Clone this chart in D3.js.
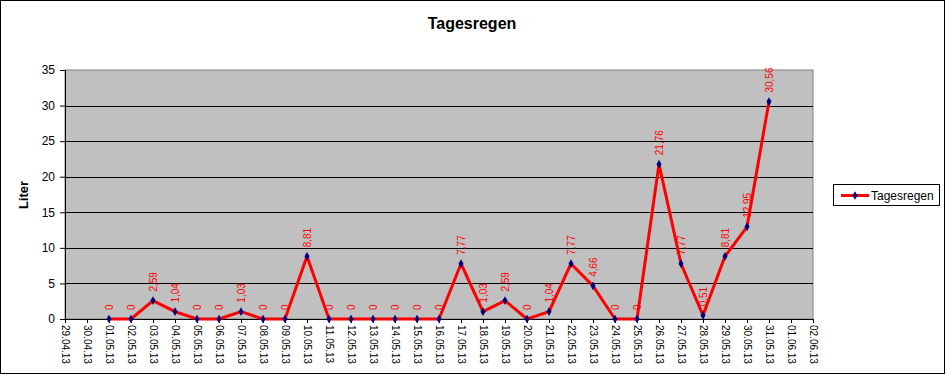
<!DOCTYPE html>
<html>
<head>
<meta charset="utf-8">
<script src="https://cdn.jsdelivr.net/npm/d3@7"></script>
<style>
  body { margin: 0; background: #fff; }
  svg { display: block; font-family: "Liberation Sans", Arial, sans-serif; }
</style>
</head>
<body>
<svg id="chart" width="946" height="375"></svg>
<script>
var dates = ["29.04.13","30.04.13","01.05.13","02.05.13","03.05.13","04.05.13","05.05.13",
  "06.05.13","07.05.13","08.05.13","09.05.13","10.05.13","11.05.13","12.05.13","13.05.13",
  "14.05.13","15.05.13","16.05.13","17.05.13","18.05.13","19.05.13","20.05.13","21.05.13",
  "22.05.13","23.05.13","24.05.13","25.05.13","26.05.13","27.05.13","28.05.13","29.05.13",
  "30.05.13","31.05.13","01.06.13","02.06.13"];

// null = no measurement
var rain = [null, null, 0, 0, 2.59, 1.04, 0, 0, 1.03, 0, 0, 8.81, 0, 0, 0, 0, 0, 0, 7.77,
  1.03, 2.59, 0, 1.04, 7.77, 4.66, 0, 0, 21.76, 7.77, 0.51, 8.81, 12.95, 30.56, null, null];

var yTicks = [0, 5, 10, 15, 20, 25, 30, 35];

var svg = d3.select("#chart"),
    margin = {top: 70, right: 133, bottom: 56, left: 65},
    width = +svg.attr("width") - margin.left - margin.right,
    height = +svg.attr("height") - margin.top - margin.bottom;

// outer frame
svg.append("rect")
    .attr("x", 0.5).attr("y", 0.5)
    .attr("width", 944).attr("height", 373)
    .attr("fill", "#fff").attr("stroke", "#000");

svg.append("text")
    .attr("x", 472).attr("y", 29)
    .attr("text-anchor", "middle")
    .attr("font-size", 16).attr("font-weight", "bold")
    .text("Tagesregen");

var g = svg.append("g").attr("transform", "translate(" + margin.left + "," + margin.top + ")");

var x = d3.scalePoint().domain(dates).range([0, width]);
var y = d3.scaleLinear().domain([0, 35]).range([height, 0]);

g.append("rect")
    .attr("width", width).attr("height", height)
    .attr("fill", "#c0c0c0").attr("stroke", "#808080");

g.append("g")
  .selectAll("line")
  .data(yTicks.slice(1, -1))
  .enter().append("line")
    .attr("x1", 0).attr("x2", width)
    .attr("y1", function(d) { return Math.round(y(d)) + 0.5; })
    .attr("y2", function(d) { return Math.round(y(d)) + 0.5; })
    .attr("stroke", "#000");

var yAxis = g.append("g")
    .call(d3.axisLeft(y).tickValues(yTicks).tickSize(5).tickPadding(5));
yAxis.selectAll("text").attr("font-size", 12).attr("font-family", "Liberation Sans, Arial").attr("fill", "#000");
yAxis.selectAll("line, path").attr("stroke", "#000");

var xAxis = g.append("g")
    .attr("transform", "translate(0," + height + ")")
    .call(d3.axisBottom(x).tickSize(4).tickSizeOuter(0));
xAxis.selectAll("line, path").attr("stroke", "#000");
xAxis.selectAll("text")
    .attr("font-size", 10).attr("font-family", "Liberation Sans, Arial").attr("fill", "#000")
    .attr("x", 6).attr("y", 0).attr("dy", "0.35em")
    .attr("transform", "rotate(90)")
    .style("text-anchor", "start");

svg.append("text")
    .attr("transform", "translate(28,195) rotate(-90)")
    .attr("text-anchor", "middle")
    .attr("font-size", 13).attr("font-weight", "bold")
    .text("Liter");

var pts = dates.map(function(d, i) { return {date: d, v: rain[i]}; })
    .filter(function(d) { return d.v !== null; });

g.append("path")
    .datum(pts)
    .attr("fill", "none")
    .attr("stroke", "#ff0000")
    .attr("stroke-width", 3)
    .attr("stroke-linejoin", "round")
    .attr("d", d3.line()
      .x(function(d) { return x(d.date); })
      .y(function(d) { return y(d.v); }));

g.append("g")
  .selectAll("path")
  .data(pts)
  .enter().append("path")
    .attr("transform", function(d) { return "translate(" + x(d.date) + "," + y(d.v) + ")"; })
    .attr("d", d3.symbol(d3.symbolDiamond, 22))
    .attr("fill", "#000080");

var fmt = function(v) { return String(v).replace(".", ","); };

g.append("g")
  .selectAll("text")
  .data(pts)
  .enter().append("text")
    .attr("transform", function(d) { return "translate(" + x(d.date) + "," + (y(d.v) - 9) + ") rotate(-90)"; })
    .attr("dy", "0.35em")
    .attr("font-size", 10)
    .attr("fill", "#ff0000")
    .text(function(d) { return fmt(d.v); });

// legend
var legend = svg.append("g").attr("transform", "translate(833,184)");
legend.append("rect")
    .attr("x", 0.5).attr("y", 0.5).attr("width", 106).attr("height", 21)
    .attr("fill", "#fff").attr("stroke", "#000");
legend.append("line")
    .attr("x1", 8).attr("x2", 36).attr("y1", 11.5).attr("y2", 11.5)
    .attr("stroke", "#ff0000").attr("stroke-width", 3);
legend.append("path")
    .attr("transform", "translate(22,11.5)")
    .attr("d", d3.symbol(d3.symbolDiamond, 22))
    .attr("fill", "#000080");
legend.append("text")
    .attr("x", 38).attr("y", 11.5).attr("dy", "0.35em")
    .attr("font-size", 12)
    .text("Tagesregen");
</script>
</body>
</html>
